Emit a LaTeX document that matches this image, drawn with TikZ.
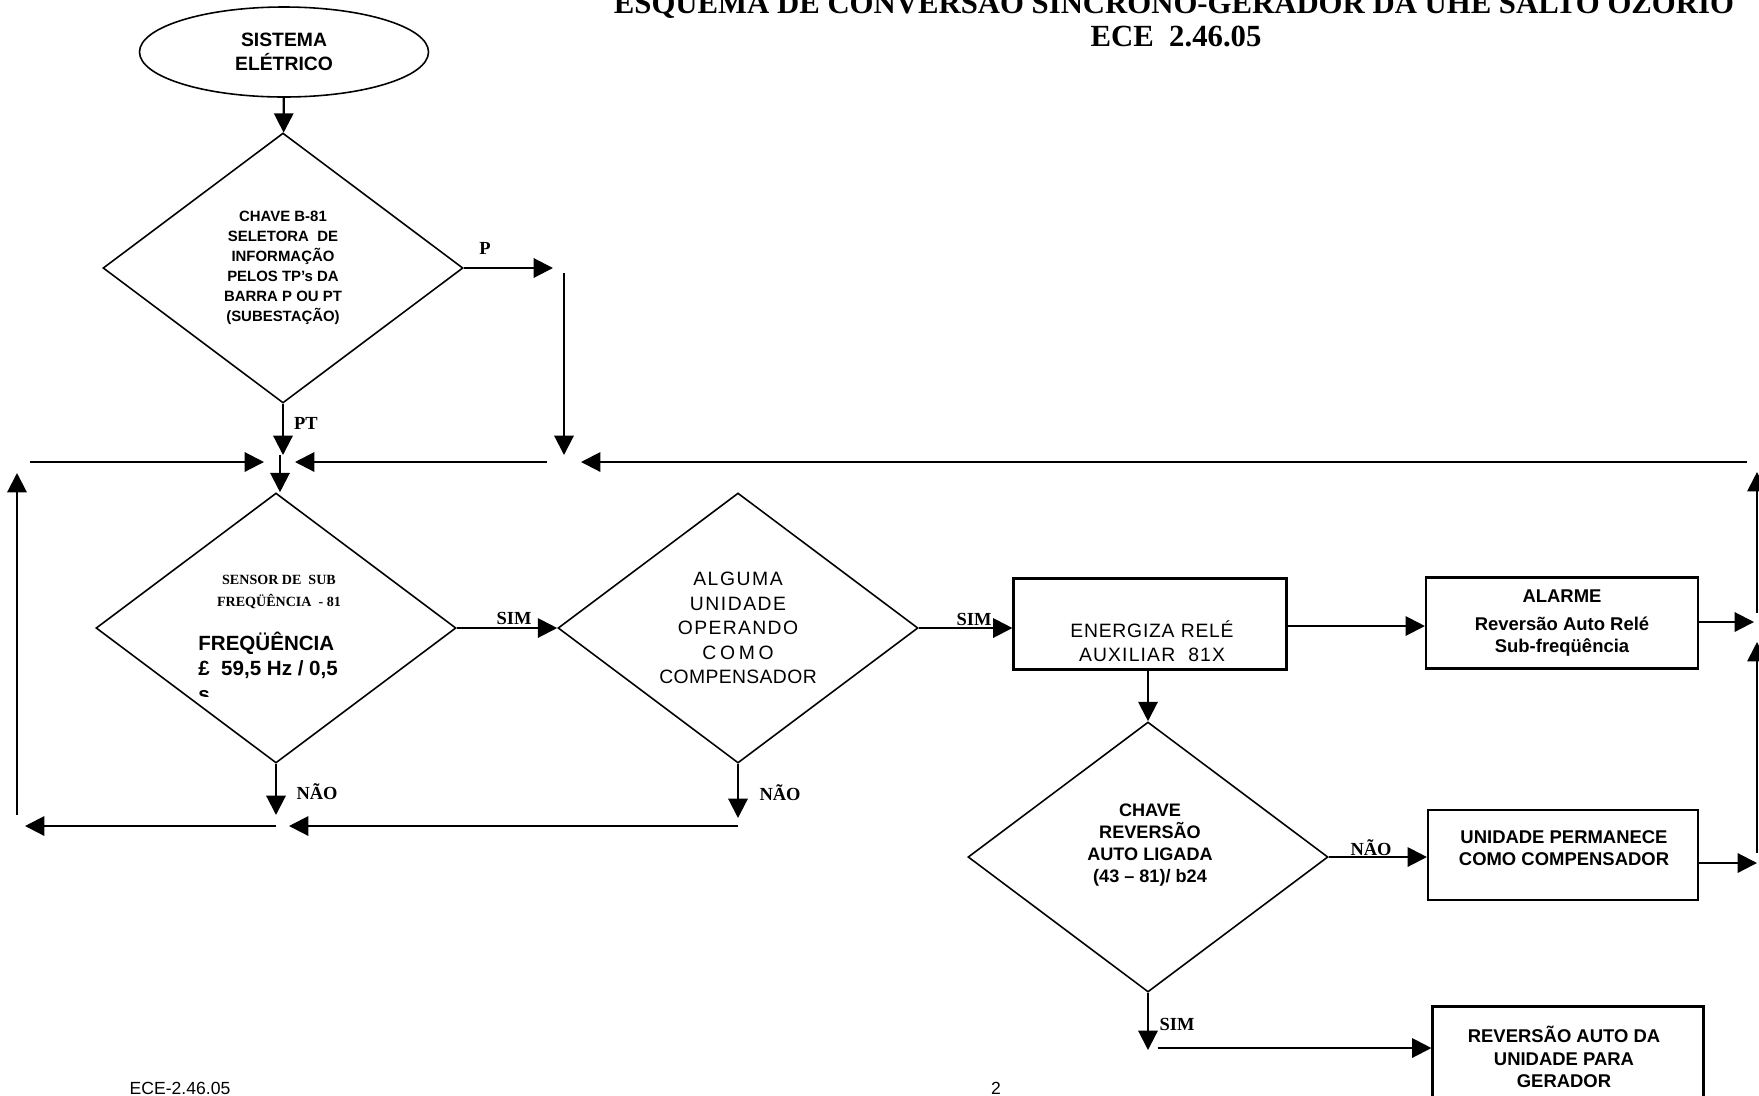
\documentclass[tikz,border=0pt]{standalone}
\usepackage{fontspec}
\setmainfont{Liberation Serif}
\setsansfont{Liberation Sans}
\usetikzlibrary{shapes.geometric,arrows.meta}
\newcommand{\fs}[2]{\fontsize{#1}{#2}\selectfont}
\newcommand{\esp}[2]{{\addfontfeatures{LetterSpace=#1}#2}}

\begin{document}
\begin{tikzpicture}[x=0.2mm,y=-0.2mm,
    seta/.style={-{Triangle[length=11pt,width=11pt]},line width=1.2pt},
    decisao/.style={diamond,draw,line width=0.9pt,aspect=1.333,inner sep=0pt,
      minimum width=72mm,minimum height=54mm,align=center},
    caixa/.style={rectangle,draw,line width=1.2pt,inner sep=0pt},
    rotulo/.style={font=\rmfamily\bfseries\fs{10.5}{12},inner sep=1pt},
    negrito/.style={font=\sffamily\bfseries\fs{10.5}{12.6},align=center},
    fino/.style={font=\sffamily\fs{11}{13.8},align=center}]
        \useasboundingbox (0,0) rectangle (1759,1095);
        % titulo (cortado no topo da pagina)
        \node[anchor=base,font=\rmfamily\bfseries\fs{17.5}{20}] (titulo) at (1174,13) {ESQUEMA DE CONVERSÃO SÍNCRONO-GERADOR DA UHE SALTO OZÓRIO};
        \node[anchor=base,font=\rmfamily\bfseries\fs{17.5}{20}] (ece) at (1176,46) {ECE\ \ 2.46.05};
        % blocos
        \node[ellipse,draw,line width=0.9pt,minimum width=57.8mm,minimum height=18mm,align=center,
          font=\sffamily\bfseries\fs{11}{13.5}] (sistema) at (284,52) {SISTEMA\\ELÉTRICO};
        \node[decisao,font=\sffamily\bfseries\fs{8.5}{11.4}] (chave) at (283,268)
          {CHAVE B-81\\SELETORA\ \ DE\\INFORMAÇÃO\\PELOS TP's DA\\BARRA P OU PT\\(SUBESTAÇÃO)};
        \node[decisao] (sensor) at (276,628) {};
        \node[align=center,font=\rmfamily\bfseries\fs{8}{12.5}] (sensortit) at (279,592) {SENSOR DE\ \ SUB\\FREQÜÊNCIA\ \ - 81};
        \node[anchor=base west,inner sep=0pt,font=\sffamily\bfseries\fs{11.7}{14}] (freq) at (198,650) {FREQÜÊNCIA};
        \node[anchor=base west,inner sep=0pt,font=\sffamily\bfseries\fs{11.7}{14}] (valor) at (198,675) {£\ \ 59,5 Hz / 0,5};
        \begin{scope}
          \clip (150,680) rectangle (400,696);
          \node[anchor=base west,inner sep=0pt,font=\sffamily\bfseries\fs{11.7}{14}] (seg) at (198,701) {s};
        \end{scope}
        \node[decisao,fino,font=\sffamily\fs{11}{14}] (alguma) at (738,628)
          {\esp{8}{ALGUMA}\\\esp{8}{UNIDADE}\\\esp{7}{OPERANDO}\\\esp{19}{COMO}\\\esp{2}{COMPENSADOR}};
        \node[caixa,minimum width=54.6mm,minimum height=18.2mm] (rele) at (1150,624) {};
        \node[fino] (reletxt) at (1152,641) {\esp{4}{ENERGIZA RELÉ}\\\esp{6}{AUXILIAR\ \ 81X}};
        \node[caixa,minimum width=54.4mm,minimum height=18.2mm,negrito] (alarme) at (1562,623)
          {ALARME\\[3pt]Reversão Auto Relé\\Sub-freqüência};
        \node[decisao] (reversao) at (1148,857) {};
        \node[negrito,font=\sffamily\bfseries\fs{10.3}{12.6}] (reversaotxt) at (1150,845)
          {CHAVE\\REVERSÃO\\AUTO LIGADA\\(43 – 81)/ b24};
        \node[caixa,minimum width=54mm,minimum height=18mm] (permanece) at (1563,855) {};
        \node[negrito] (permanecetxt) at (1564,848) {UNIDADE PERMANECE\\COMO COMPENSADOR};
        \node[caixa,minimum width=54.2mm,minimum height=24.6mm] (gerador) at (1568,1068) {};
        \node[negrito,font=\sffamily\bfseries\fs{10.5}{13}] (geradortxt) at (1564,1057) {REVERSÃO AUTO DA\\UNIDADE PARA\\GERADOR};
        % pontas livres
        \coordinate (pfim) at (553,268);
        \coordinate (ptfim) at (283,455);
        \coordinate (ptopo) at (564,273);
        \coordinate (pbase) at (564,455);
        \coordinate (junta) at (280,455);
        \coordinate (esqini) at (30,462);
        \coordinate (esqfim) at (264,462);
        \coordinate (meioini) at (547,462);
        \coordinate (meiofim) at (295,462);
        \coordinate (dirini) at (1747,462);
        \coordinate (dirfim) at (581,462);
        \coordinate (voltabase) at (17,815);
        \coordinate (voltatopo) at (17,473);
        \coordinate (ladoabase) at (1757,613);
        \coordinate (ladoatopo) at (1757,472);
        \coordinate (ladobbase) at (1757,853);
        \coordinate (ladobtopo) at (1757,642);
        \coordinate (naoum) at (276,815);
        \coordinate (naodois) at (738,818);
        \coordinate (baixoaini) at (276,826);
        \coordinate (baixoafim) at (25,826);
        \coordinate (baixobini) at (738,826);
        \coordinate (baixobfim) at (289,826);
        \coordinate (alarmefim) at (1754,622);
        \coordinate (permanecefim) at (1757,863);
        \coordinate (simfim) at (1148,1050);
        \coordinate (simini) at (1158,1048);
        % ligacoes
        \draw[seta] (sistema) -- (chave);
        \draw[seta] (chave.east) -- (pfim);
        \draw[seta] (chave.south) -- (ptfim);
        \draw[seta] (ptopo) -- (pbase);
        \draw[seta] (junta) -- (junta |- sensor.north);
        \draw[seta] (esqini) -- (esqfim);
        \draw[seta] (meioini) -- (meiofim);
        \draw[seta] (dirini) -- (dirfim);
        \draw[seta] (voltabase) -- (voltatopo);
        \draw[seta] (ladoabase) -- (ladoatopo);
        \draw[seta] (ladobbase) -- (ladobtopo);
        \draw[seta] (sensor.east) -- (sensor.east -| alguma.west);
        \draw[seta] (sensor.south) -- (naoum);
        \draw[seta] (alguma.south) -- (naodois);
        \draw[seta] (baixoaini) -- (baixoafim);
        \draw[seta] (baixobini) -- (baixobfim);
        \draw[seta] (alguma.east) -- (alguma.east -| rele.west);
        \draw[seta] (rele.east |- 0,626) -- (alarme.west |- 0,626);
        \draw[seta] (alarme.east |- alarmefim) -- (alarmefim);
        \draw[seta] (rele.south -| reversao.north) -- (reversao.north);
        \draw[seta] (reversao.east) -- (reversao.east -| permanece.west);
        \draw[seta] (permanece.east |- permanecefim) -- (permanecefim);
        \draw[seta] (reversao.south) -- (simfim);
        \draw[seta] (simini) -- (simini -| gerador.west);
        % rotulos
        \node[rotulo] (lp) at (485,248) {P};
        \node[rotulo] (lpt) at (306,423) {PT};
        \node[rotulo,anchor=south] (lsimum) at (514,630) {\underline{SIM}};
        \node[rotulo,anchor=south] (lsimdois) at (974,631) {\underline{SIM}};
        \node[rotulo] (lnaoum) at (317,792) {NÃO};
        \node[rotulo] (lnaodois) at (780,793) {NÃO};
        \node[rotulo] (lnaotres) at (1371,848) {NÃO};
        \node[rotulo] (lsimtres) at (1177,1024) {SIM};
        % rodape
        \node[anchor=base,font=\sffamily\fs{10}{12}] (rodape) at (180,1094) {ECE-2.46.05};
        \node[anchor=base,font=\sffamily\fs{10}{12}] (pagina) at (996,1094) {2};
\end{tikzpicture}
\end{document}
